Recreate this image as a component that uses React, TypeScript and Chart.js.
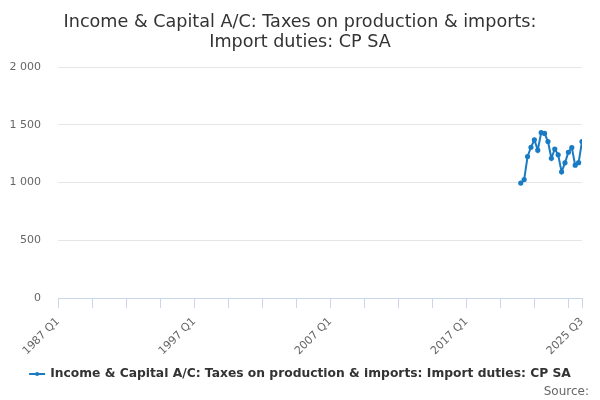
import { useEffect, useRef } from "react";
import { Chart, registerables } from "chart.js";

Chart.register(...registerables);

const titleLines = [
  "Income & Capital A/C: Taxes on production & imports:",
  "Import duties: CP SA",
];
const seriesName = "Income & Capital A/C: Taxes on production & imports: Import duties: CP SA";

// quarters shown on the x axis
const firstQuarter = "1987 Q1";
const lastQuarter = "2025 Q3";
const labelledQuarters = ["1987 Q1", "1997 Q1", "2007 Q1", "2017 Q1", "2025 Q3"];

const dataQuarters = [
  "2021 Q1", "2021 Q2", "2021 Q3", "2021 Q4",
  "2022 Q1", "2022 Q2", "2022 Q3", "2022 Q4",
  "2023 Q1", "2023 Q2", "2023 Q3", "2023 Q4",
  "2024 Q1", "2024 Q2", "2024 Q3", "2024 Q4",
  "2025 Q1", "2025 Q2", "2025 Q3",
];
const values = [
  995, 1025, 1225, 1305, 1370, 1280, 1432, 1425,
  1355, 1210, 1290, 1240, 1092, 1170, 1262, 1302,
  1150, 1172, 1355,
];

const FONT = "'DejaVu Sans', sans-serif";
const LINE = "#1a7bc4";

const qIndex = (q: string) => {
  const [y, n] = q.split(" Q");
  return (Number(y) - Number(firstQuarter.slice(0, 4))) * 4 + Number(n) - 1;
};
const qLabel = (i: number) => {
  const y = Number(firstQuarter.slice(0, 4)) + Math.floor(i / 4);
  return `${y} Q${(i % 4) + 1}`;
};

const decorations = {
  id: "decorations",
  afterDraw(chart: Chart) {
    const { ctx, width } = chart;
    ctx.save();
    ctx.textAlign = "center";
    ctx.textBaseline = "middle";
    ctx.fillStyle = "#333333";
    ctx.font = `17.6px ${FONT}`;
    titleLines.forEach((t, i) => ctx.fillText(t, width / 2, 22 + i * 20));

    // legend
    ctx.font = `bold 12.3px ${FONT}`;
    const tw = ctx.measureText(seriesName).width;
    const total = 16 + 5 + tw;
    const x0 = width / 2 - total / 2;
    const ly = 374;
    ctx.strokeStyle = LINE;
    ctx.lineWidth = 2;
    ctx.beginPath();
    ctx.moveTo(x0, ly);
    ctx.lineTo(x0 + 16, ly);
    ctx.stroke();
    ctx.fillStyle = LINE;
    ctx.beginPath();
    ctx.arc(x0 + 8, ly, 2, 0, Math.PI * 2);
    ctx.fill();
    ctx.fillStyle = "#333333";
    ctx.textAlign = "left";
    ctx.fillText(seriesName, x0 + 21, ly);

    ctx.font = `12px ${FONT}`;
    ctx.fillStyle = "#666666";
    ctx.textAlign = "right";
    ctx.fillText("Source:", 589, 392);
    ctx.restore();
  },
};

function App() {
  const chartRef = useRef<HTMLCanvasElement | null>(null);
  useEffect(() => {
    const ctx = chartRef.current?.getContext("2d");
    if (!ctx) return;
    const maxIdx = qIndex(lastQuarter);
    const labelIdx = labelledQuarters.map(qIndex);

    const chart = new Chart(ctx, {
      type: "line",
      data: {
        datasets: [
          {
            label: seriesName,
            data: dataQuarters.map((q, i) => ({ x: qIndex(q), y: values[i] })),
            borderColor: LINE,
            backgroundColor: LINE,
            borderWidth: 2,
            pointRadius: 1.6,
            pointHoverRadius: 1.6,
            tension: 0,
          },
        ],
      },
      options: {
        responsive: true,
        maintainAspectRatio: false,
        animation: false,
        layout: { padding: { top: 67, right: 18, left: 0, bottom: 0 } },
        plugins: {
          legend: { display: false },
          title: { display: false },
          tooltip: { enabled: false },
        },
        scales: {
          x: {
            type: "linear",
            min: 0,
            max: maxIdx,
            afterBuildTicks: (scale: any) => {
              const t: { value: number }[] = [];
              for (let v = 0; v < maxIdx; v += 10) t.push({ value: v });
              t.push({ value: maxIdx });
              scale.ticks = t;
            },
            afterFit: (scale: any) => {
              scale.height = 102;
            },
            ticks: {
              autoSkip: false,
              maxRotation: 45,
              minRotation: 45,
              padding: 7,
              color: "#666666",
              font: { family: FONT, size: 11 },
              callback: (v: any) => (labelIdx.includes(Number(v)) ? qLabel(Number(v)) : ""),
            },
            grid: {
              drawOnChartArea: false,
              drawTicks: true,
              tickLength: 10,
              color: "#ccd6eb",
            },
            border: { color: "#ccd6eb", width: 1 },
          },
          y: {
            min: 0,
            max: 2000,
            afterFit: (scale: any) => {
              scale.width = 58;
            },
            ticks: {
              stepSize: 500,
              padding: 17,
              color: "#666666",
              font: { family: FONT, size: 11 },
              callback: (v: any) => String(v).replace(/\B(?=(\d{3})+(?!\d))/g, " "),
            },
            grid: { color: "#e6e6e6", drawTicks: false },
            border: { display: false },
          },
        },
      },
      plugins: [decorations],
    });
    return () => chart.destroy();
  }, []);

  return (
    <div style={{ position: "fixed", left: 0, top: 0, width: 600, height: 400, background: "#fff" }}>
      <canvas ref={chartRef}></canvas>
    </div>
  );
}

export default App;
